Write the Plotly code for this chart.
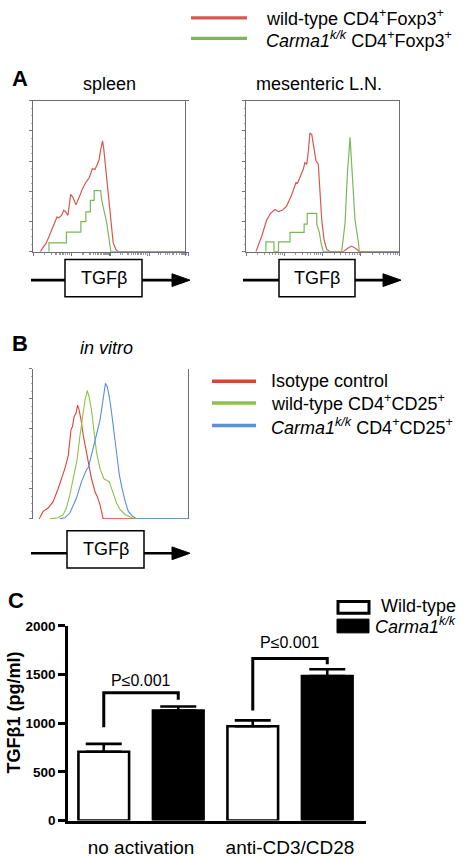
import math
import plotly.graph_objects as go

W, H = 466, 858
FONT = "Arial, Liberation Sans, sans-serif"

# ---------------- DATA ----------------
# Histograms: x = log10 fluorescence (decades, 0..4), y = % of max
spleen_wt_x = [0.19, 0.35, 0.53, 0.63, 0.68, 0.75, 0.81, 0.86, 0.92, 0.99, 1.05, 1.13, 1.23, 1.30, 1.39, 1.48,
               1.56, 1.63, 1.69, 1.74, 1.78, 1.83, 1.86, 1.92, 1.98, 2.04, 2.11, 2.18, 2.24, 4.0]
spleen_wt_y = [0, 5.8, 16.7, 23, 22.5, 24, 27.5, 26.5, 24, 38, 36, 31, 37, 41.6, 46, 49,
               55, 54.5, 57.8, 61, 67.5, 73.4, 68.6, 53.5, 36, 18.8, 5.8, 1.5, 0, 0]
spleen_ko_x = [0.42, 0.42, 0.88, 0.88, 1.26, 1.26, 1.39, 1.39, 1.51, 1.51, 1.61, 1.61, 1.78, 1.81, 1.94, 2.03,
               2.05, 4.0]
spleen_ko_y = [0, 5.8, 5.8, 13, 13, 19.9, 19.9, 26.4, 26.4, 34, 34, 40.5, 40.5, 34, 19, 5.8, 0, 0]

mln_wt_x = [0.26, 0.41, 0.54, 0.64, 0.76, 0.85, 0.96, 1.06, 1.19, 1.26, 1.31, 1.34, 1.41, 1.50, 1.54, 1.59,
            1.63, 1.67, 1.72, 1.76, 1.83, 1.89, 1.93, 1.98, 2.04, 2.11, 2.20, 2.54, 2.68, 2.76, 2.88, 2.96, 4.0]
mln_wt_y = [0, 10.2, 21, 25.4, 28, 26.5, 27.6, 30.2, 37.4, 42.8, 46, 45, 49.3, 54.8, 59, 58,
            66.7, 78.7, 77.6, 70, 60.2, 58, 38.5, 21, 8, 1.5, 0, 0, 2.6, 3.7, 2, 0, 0]
mln_ko_x = [0.52, 0.52, 0.73, 0.73, 0.85, 0.85, 1.15, 1.15, 1.52, 1.52, 1.60, 1.60, 1.85, 1.85, 1.92, 1.96,
            2.02, 2.50, 2.59, 2.65, 2.72, 2.78, 2.85, 2.94, 2.96, 4.0]
mln_ko_y = [0, 6.5, 6.5, 0, 0, 6.5, 6.5, 12.8, 12.8, 18.3, 18.3, 25.4, 25.4, 18.3, 12.4, 5.9,
            0, 0, 18.9, 51.5, 75.9, 51.5, 21, 5.9, 0, 0]

vitro_iso_x = [0.16, 0.26, 0.39, 0.52, 0.65, 0.73, 0.82, 0.91, 0.98, 1.02, 1.06, 1.11, 1.15, 1.19, 1.24, 1.30,
               1.37, 1.43, 1.51, 1.60, 1.66, 1.73, 1.78, 1.81, 4.0]
vitro_iso_y = [0, 5, 7.2, 11.5, 20.2, 25.7, 33.3, 42, 59.3, 61.5, 68, 70.2, 75.7, 72.4, 65.9, 55,
               46.3, 37.6, 26.7, 18, 14.8, 9.3, 2.8, 0, 0]
vitro_wt_x = [0.43, 0.65, 0.78, 0.86, 0.95, 1.04, 1.14, 1.21, 1.28, 1.34, 1.40, 1.45, 1.51, 1.57, 1.64, 1.73,
              1.83, 1.90, 1.97, 2.07, 2.16, 2.25, 2.38, 2.55, 2.68, 4.0]
vitro_wt_y = [0, 0.7, 2.8, 7.2, 15.9, 26.7, 39.8, 55, 68, 78.9, 85.4, 81, 72.4, 57.2, 44.1, 33.3,
              26.7, 25.7, 24.6, 17, 10.4, 6.1, 2.8, 0.7, 0, 0]
vitro_ko_x = [0.69, 0.82, 0.95, 1.12, 1.25, 1.37, 1.43, 1.51, 1.60, 1.66, 1.73, 1.80, 1.87, 1.92, 1.97, 2.03,
              2.09, 2.16, 2.23, 2.30, 2.38, 2.46, 2.57, 2.68, 4.0]
vitro_ko_y = [0, 0.7, 3.9, 13.7, 24.6, 32.2, 34.3, 42, 50.7, 58.3, 65.9, 78.9, 90.2, 87.6, 81, 70.2,
              57.2, 42, 28.9, 20.2, 11.5, 5, 1.7, 0, 0]

# Panel C: TGFb1 ELISA (pg/ml)
conditions = ["no activation", "anti-CD3/CD28"]
wt_tgfb = [707, 970]
wt_err = [81, 60]
carma_tgfb = [1131, 1485]
carma_err = [41, 71]
yticks_c = [0, 500, 1000, 1500, 2000]
# significance brackets (pg/ml levels)
bracket_top = [1313, 1667]
bracket_left_foot = [960, 1131]
bracket_right_foot = [1242, 1606]
bracket_label_y = [1444, 1828]
p_labels = ["P≤0.001", "P≤0.001"]

# ---------------- STYLE ----------------
RED_A = "#d6584f"
GREEN_A = "#7db65a"
RED_B = "#dc4336"
GREEN_B = "#8dc246"
BLUE_B = "#5a8fdc"


def px(x):
    return x / W


def py(y):
    return 1 - y / H


fig = go.Figure()

# histogram traces
fig.add_trace(go.Scatter(x=spleen_wt_x, y=spleen_wt_y, mode="lines", line=dict(color=RED_A, width=1.2),
                         xaxis="x", yaxis="y", showlegend=False))
fig.add_trace(go.Scatter(x=spleen_ko_x, y=spleen_ko_y, mode="lines", line=dict(color=GREEN_A, width=1.2),
                         xaxis="x", yaxis="y", showlegend=False))
fig.add_trace(go.Scatter(x=mln_wt_x, y=mln_wt_y, mode="lines", line=dict(color=RED_A, width=1.2),
                         xaxis="x2", yaxis="y2", showlegend=False))
fig.add_trace(go.Scatter(x=mln_ko_x, y=mln_ko_y, mode="lines", line=dict(color=GREEN_A, width=1.2),
                         xaxis="x2", yaxis="y2", showlegend=False))
fig.add_trace(go.Scatter(x=vitro_iso_x, y=vitro_iso_y, mode="lines", line=dict(color=RED_B, width=1.1),
                         xaxis="x3", yaxis="y3", showlegend=False))
fig.add_trace(go.Scatter(x=vitro_wt_x, y=vitro_wt_y, mode="lines", line=dict(color=GREEN_B, width=1.1),
                         xaxis="x3", yaxis="y3", showlegend=False))
fig.add_trace(go.Scatter(x=vitro_ko_x, y=vitro_ko_y, mode="lines", line=dict(color=BLUE_B, width=1.1),
                         xaxis="x3", yaxis="y3", showlegend=False))

# bar traces
fig.add_trace(go.Bar(x=conditions, y=wt_tgfb, name="Wild-type", xaxis="x4", yaxis="y4",
                     marker=dict(color="white", line=dict(color="black", width=2.6)),
                     error_y=dict(type="data", array=wt_err, arrayminus=[0, 0], symmetric=False,
                                  width=18, thickness=2.6, color="black"),
                     showlegend=False))
fig.add_trace(go.Bar(x=conditions, y=carma_tgfb, name="Carma1k/k", xaxis="x4", yaxis="y4",
                     marker=dict(color="black", line=dict(color="black", width=2.6)),
                     error_y=dict(type="data", array=carma_err, arrayminus=[0, 0], symmetric=False,
                                  width=18, thickness=2.6, color="black"),
                     showlegend=False))

minor_log = [k + math.log10(m) for k in range(4) for m in range(2, 10)]


def hist_x(domain):
    return dict(domain=domain, range=[0, 4], showline=True, mirror=True, linecolor="#6f6f6f", linewidth=1,
                ticks="outside", tickvals=[0, 1, 2, 3, 4], ticklen=3, tickcolor="#777", tickwidth=1,
                showticklabels=False, showgrid=False, zeroline=False,
                minor=dict(tickmode="array", tickvals=minor_log, ticks="outside", ticklen=2,
                           tickcolor="#999", tickwidth=1))


def hist_y(domain, anchor):
    return dict(domain=domain, range=[0, 100], anchor=anchor, showline=True, mirror=True, linecolor="#6f6f6f",
                linewidth=1, ticks="outside", tickvals=[0, 20, 40, 60, 80, 100], ticklen=3, tickcolor="#777",
                tickwidth=1, showticklabels=False, showgrid=False, zeroline=False,
                minor=dict(dtick=5, ticks="outside", ticklen=1.5, tickcolor="#aaa", tickwidth=1))


bargap = 0.0
bargroupgap = 0.32
bar_off = (1 - bargap) / 4

fig.update_layout(
    width=W, height=H, autosize=False,
    margin=dict(l=0, r=0, t=0, b=0),
    paper_bgcolor="white", plot_bgcolor="white",
    font=dict(family=FONT, color="black"),
    barmode="group", bargap=bargap, bargroupgap=bargroupgap,
    xaxis=hist_x([px(33), px(185)]),
    yaxis=hist_y([py(249), py(95.5)], "x"),
    xaxis2=hist_x([px(246), px(399)]),
    yaxis2=hist_y([py(249), py(95.5)], "x2"),
    xaxis3=hist_x([px(33), px(188)]),
    yaxis3=hist_y([py(521), py(368)], "x3"),
    xaxis4=dict(domain=[px(68), px(366)], anchor="y4", range=[-0.49, 1.51], type="category",
                showline=True, linecolor="black", linewidth=2.6, ticks="outside", ticklen=8,
                tickcolor="rgba(0,0,0,0)", tickfont=dict(size=19, family=FONT), showgrid=False, zeroline=False),
    yaxis4=dict(domain=[py(828), py(630)], anchor="x4", range=[0, 2000], tickvals=yticks_c,
                showline=True, linecolor="black", linewidth=2.6, ticks="outside", ticklen=7, tickwidth=2.6,
                tickcolor="black", tickfont=dict(size=13.5, family=FONT, weight="bold"),
                showgrid=False, zeroline=False),
)

shapes = []
annotations = []


def text(x, y, t, size=18, xanchor="center", **kw):
    annotations.append(dict(x=px(x), y=py(y), xref="paper", yref="paper", text=t, showarrow=False,
                            xanchor=xanchor, yanchor="middle", font=dict(size=size, family=FONT,
                                                                         color="black"), **kw))


def hline(x0, x1, y, color, width):
    shapes.append(dict(type="line", xref="paper", yref="paper", x0=px(x0), x1=px(x1), y0=py(y), y1=py(y),
                       line=dict(color=color, width=width)))


def tgfb_axis(x0, tip, y, bx0, bx1, by0, by1):
    hline(x0, tip - 17, y, "black", 2.6)
    shapes.append(dict(type="path", xref="paper", yref="paper",
                       path=f"M{px(tip-18)},{py(y-6.5)} L{px(tip)},{py(y)} L{px(tip-18)},{py(y+6.5)} Z",
                       fillcolor="black", line=dict(color="black", width=1)))
    shapes.append(dict(type="rect", xref="paper", yref="paper", x0=px(bx0), x1=px(bx1), y0=py(by1),
                       y1=py(by0), fillcolor="white", line=dict(color="black", width=1.5)))
    text((bx0 + bx1) / 2, (by0 + by1) / 2, "TGFβ", size=18)


# top legend (panel A)
hline(191, 247, 11, RED_A, 3.2)
hline(191, 247, 32, GREEN_A, 3.2)
text(264, 11, "wild-type CD4<sup>+</sup>Foxp3<sup>+</sup>", xanchor="left")
text(264, 33, "<i>Carma1<sup>k/k</sup></i> CD4<sup>+</sup>Foxp3<sup>+</sup>", xanchor="left")

# panel A
text(20, 73, "<b>A</b>", size=22)
text(109, 78, "spleen")
text(319, 78, "mesenteric L.N.")
tgfb_axis(31, 190, 278, 65, 142, 257, 295)
tgfb_axis(243, 401, 278, 279, 355, 257, 295)

# panel B
text(20, 342, "<b>B</b>", size=22)
text(106, 347, "<i>in vitro</i>")
tgfb_axis(31, 190, 556, 67, 144, 533, 571)
hline(212, 256, 381, RED_B, 3.5)
hline(212, 256, 403, GREEN_B, 3.5)
hline(212, 256, 426, BLUE_B, 3.5)
text(269, 381, "Isotype control", xanchor="left")
text(269, 403, "wild-type CD4<sup>+</sup>CD25<sup>+</sup>", xanchor="left")
text(269, 427, "<i>Carma1<sup>k/k</sup></i> CD4<sup>+</sup>CD25<sup>+</sup>", xanchor="left")

# panel C
text(16, 604, "<b>C</b>", size=22)
text(14, 718, "<b>TGFβ1 (pg/ml)</b>", size=18, textangle=-90)
shapes.append(dict(type="rect", xref="paper", yref="paper", x0=px(338), x1=px(369), y0=py(617), y1=py(605),
                   fillcolor="white", line=dict(color="black", width=3)))
shapes.append(dict(type="rect", xref="paper", yref="paper", x0=px(337), x1=px(369), y0=py(637), y1=py(623),
                   fillcolor="black", line=dict(color="black", width=1)))
text(379, 610, "Wild-type", size=18, xanchor="left")
text(373, 630, "<i>Carma1<sup>k/k</sup></i>", size=18, xanchor="left")

for i in range(len(conditions)):
    xl = i - bar_off
    xr = i + bar_off
    shapes.append(dict(type="path", xref="x4", yref="y4",
                       path=f"M{xl},{bracket_left_foot[i]} L{xl},{bracket_top[i]} "
                            f"L{xr},{bracket_top[i]} L{xr},{bracket_right_foot[i]}",
                       line=dict(color="black", width=3)))
    annotations.append(dict(x=i, y=bracket_label_y[i], xref="x4", yref="y4", text=p_labels[i],
                            showarrow=False, xanchor="center", yanchor="middle",
                            font=dict(size=16, family=FONT, color="black")))

fig.update_layout(shapes=shapes, annotations=annotations)
fig.write_html("out.html", config={"displayModeBar": False},
               post_script="document.body.style.margin='0';document.body.style.overflow='hidden';")
